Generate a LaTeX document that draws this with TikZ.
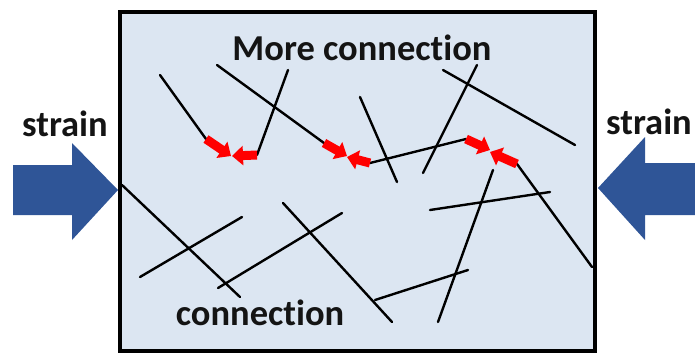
\documentclass[tikz,border=0pt]{standalone}
\usepackage{fontspec}
\setmainfont[Ligatures=CommonOff]{Carlito}
\usetikzlibrary{arrows.meta}
\definecolor{boxfill}{RGB}{220,230,242}
\definecolor{bigblue}{RGB}{47,85,151}
\definecolor{redarr}{RGB}{255,0,0}
\tikzset{
  fiber/.style={line width=2.4pt, black, line cap=round},
  redpush/.style={line width=9pt, redarr, -{Triangle[length=11pt,width=19pt]}},
  label/.style={font=\bfseries\fontsize{36.5}{40}\selectfont, text=black!92, inner sep=0pt},
  bigarrow/.style={fill=bigblue, draw=none}
}
\begin{document}
\begin{tikzpicture}[x=1pt,y=-1pt]
\useasboundingbox (0,0) rectangle (695,354);
% box
\draw[fill=boxfill, line width=4.5pt] (120,12) rectangle (595,351);
% big arrows
\fill[bigarrow] (13,165) -- (72,165) -- (72,143) -- (118,190) -- (72,240) -- (72,215) -- (13,215) -- cycle;
\fill[bigarrow] (695,163) -- (645,163) -- (645,137) -- (598,188) -- (645,240) -- (645,215) -- (695,215) -- cycle;
\node[label] (sl) at (65,124) {strain};
\node[label] (sr) at (649,122) {strain};
\node[label] (mc) at (362,48) {More connection};
\node[label] (cn) at (260,313) {connection};
% fibers
\coordinate (a1) at (160,75);   \coordinate (a2) at (206,139);
\coordinate (b1) at (288,70);   \coordinate (b2) at (257,155);
\coordinate (c1) at (217,65);   \coordinate (c2) at (324,143);
\coordinate (d1) at (370,163);  \coordinate (d2) at (466,139);
\coordinate (e1) at (517,164);  \coordinate (e2) at (592,267);
\draw[fiber] (a1) -- (a2);
\draw[fiber] (b1) -- (b2);
\draw[fiber] (c1) -- (c2);
\draw[fiber] (d1) -- (d2);
\draw[fiber] (e1) -- (e2);
\draw[fiber] (360,97) -- (397,182);
\draw[fiber] (443,70) -- (575,145);
\draw[fiber] (477,65) -- (423,173);
\draw[fiber] (430,210) -- (550,192);
\draw[fiber] (493,170) -- (438,322);
\draw[fiber] (375,300) -- (468,270);
\draw[fiber] (283,203) -- (392,322);
\draw[fiber] (122,185) -- (240,297);
\draw[fiber] (140,277) -- (242,217);
\draw[fiber] (218,288) -- (342,213);
% red pushing arrows
\draw[redpush] (a2) -- (231,156);
\draw[redpush] (b2) -- (232,156);
\draw[redpush] (c2) -- (347,156);
\draw[redpush] (d1) -- (347,157);
\draw[redpush] (d2) -- (490,150);
\draw[redpush] (e1) -- (490,152);
\end{tikzpicture}
\end{document}
